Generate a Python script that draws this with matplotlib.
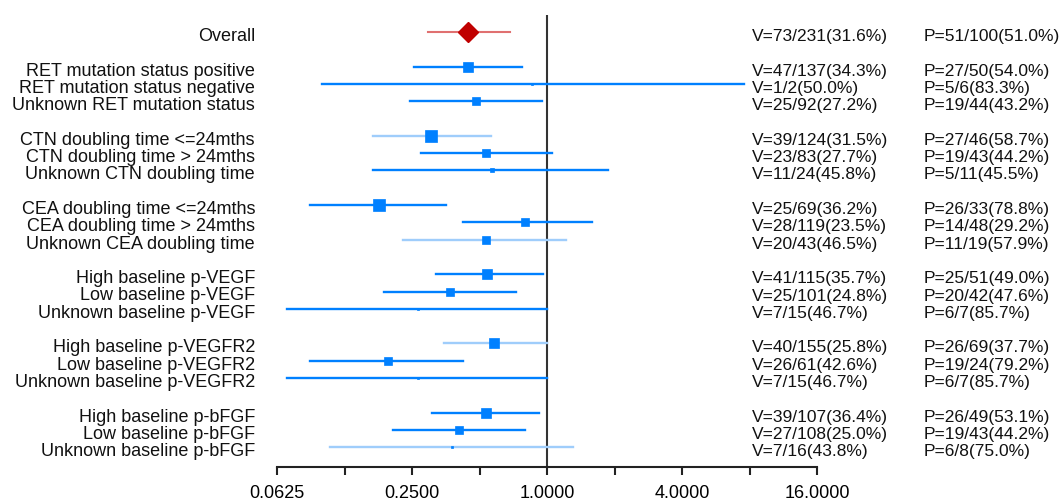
import matplotlib
matplotlib.use("Agg")
import matplotlib.pyplot as plt
from matplotlib.transforms import blended_transform_factory

# subgroup labels, grouped (one blank row between groups)
labels = [
    "Overall",
    "RET mutation status positive", "RET mutation status negative", "Unknown RET mutation status",
    "CTN doubling time <=24mths", "CTN doubling time > 24mths", "Unknown CTN doubling time",
    "CEA doubling time <=24mths", "CEA doubling time > 24mths", "Unknown CEA doubling time",
    "High baseline p-VEGF", "Low baseline p-VEGF", "Unknown baseline p-VEGF",
    "High baseline p-VEGFR2", "Low baseline p-VEGFR2", "Unknown baseline p-VEGFR2",
    "High baseline p-bFGF", "Low baseline p-bFGF", "Unknown baseline p-bFGF",
]
group_sizes = [1, 3, 3, 3, 3, 3, 3]

# odds ratio estimates and confidence limits
odds = [0.444, 0.444, 0.86, 0.484, 0.304, 0.534, 0.567, 0.178, 0.798, 0.534,
        0.542, 0.368, 0.265, 0.582, 0.196, 0.265, 0.534, 0.406, 0.378]
ci_low = [0.294, 0.255, 0.099, 0.245, 0.168, 0.273, 0.168, 0.088, 0.421, 0.227,
          0.32, 0.187, 0.069, 0.348, 0.088, 0.069, 0.306, 0.206, 0.108]
ci_high = [0.682, 0.776, 7.56, 0.947, 0.565, 1.05, 1.88, 0.353, 1.59, 1.22,
           0.96, 0.73, 1.0, 1.0, 0.423, 1.0, 0.921, 0.795, 1.31]

v_text = ["V=73/231(31.6%)",
          "V=47/137(34.3%)", "V=1/2(50.0%)", "V=25/92(27.2%)",
          "V=39/124(31.5%)", "V=23/83(27.7%)", "V=11/24(45.8%)",
          "V=25/69(36.2%)", "V=28/119(23.5%)", "V=20/43(46.5%)",
          "V=41/115(35.7%)", "V=25/101(24.8%)", "V=7/15(46.7%)",
          "V=40/155(25.8%)", "V=26/61(42.6%)", "V=7/15(46.7%)",
          "V=39/107(36.4%)", "V=27/108(25.0%)", "V=7/16(43.8%)"]
p_text = ["P=51/100(51.0%)",
          "P=27/50(54.0%)", "P=5/6(83.3%)", "P=19/44(43.2%)",
          "P=27/46(58.7%)", "P=19/43(44.2%)", "P=5/11(45.5%)",
          "P=26/33(78.8%)", "P=14/48(29.2%)", "P=11/19(57.9%)",
          "P=25/51(49.0%)", "P=20/42(47.6%)", "P=6/7(85.7%)",
          "P=26/69(37.7%)", "P=19/24(79.2%)", "P=6/7(85.7%)",
          "P=26/49(53.1%)", "P=19/43(44.2%)", "P=6/8(75.0%)"]

x_ticks = [0.0625, 0.125, 0.25, 0.5, 1, 2, 4, 8, 16]
x_ticklabels = ["0.0625", "", "0.2500", "", "1.0000", "", "4.0000", "", "16.0000"]

# style
box_px = [20, 10.5, 2.5, 8, 12.7, 8.5, 5, 11.7, 8, 7.7, 10.7, 8, 2.5, 10.7, 7.7, 2.5, 10, 8, 2.5]
light_rows = [4, 9, 13, 18]
BLUE = "#0080ff"
LIGHT = "#9fcdfb"

plt.rcParams["font.family"] = ["Liberation Sans", "DejaVu Sans"]
FS = 13

# row positions: one empty row between groups
rows = []
r = 0
for g in group_sizes:
    for k in range(g):
        rows.append(r)
        r += 1
    r += 1

fig = plt.figure(figsize=(10.59, 5.04), dpi=100)
W, H = 1059, 504
ax = fig.add_axes([277 / W, 1 - 467 / H, 540 / W, (467 - 15) / H])
ax.set_xscale("log", base=2)
ax.set_xlim(0.0625, 16)
row_px = 17.3
ax.set_ylim((467 - 32) / row_px, (15 - 32) / row_px)

ax.axvline(1, color="#333333", lw=1.5, zorder=1)

for i, y in enumerate(rows):
    if i == 0:
        ax.plot([ci_low[i], ci_high[i]], [y, y], color="#e07070", lw=1.5, zorder=2)
        ax.plot(odds[i], y, marker="D", ms=box_px[i] * 0.72 / 1.41, color="#c00000",
                mec="#c00000", zorder=3)
        continue
    c = LIGHT if i in light_rows else BLUE
    ax.plot([ci_low[i], ci_high[i]], [y, y], color=c, lw=1.7, zorder=2)
    ax.plot(odds[i], y, marker="s", ms=box_px[i] * 0.72, color=BLUE, mec=BLUE,
            mew=0.5, zorder=3)

for s in ["top", "right", "left"]:
    ax.spines[s].set_visible(False)
ax.spines["bottom"].set_color("#222222")
ax.spines["bottom"].set_linewidth(1.5)
ax.set_yticks([])
ax.set_xticks(x_ticks)
ax.set_xticklabels(x_ticklabels)
ax.minorticks_off()
ax.tick_params(axis="x", direction="out", length=6, width=1.5, color="#222222",
               labelsize=FS, pad=7)

tr = blended_transform_factory(fig.transFigure, ax.transData)
off = 9 / row_px
for i, y in enumerate(rows):
    ax.text(255 / W, y + off, labels[i], transform=tr, ha="right", va="baseline",
            fontsize=FS, color="#111111")
    ax.text(752 / W, y + off, v_text[i], transform=tr, ha="left", va="baseline",
            fontsize=FS - 0.5, color="#111111")
    ax.text(924 / W, y + off, p_text[i], transform=tr, ha="left", va="baseline",
            fontsize=FS - 0.5, color="#111111")

fig.savefig("out.png", dpi=100)
